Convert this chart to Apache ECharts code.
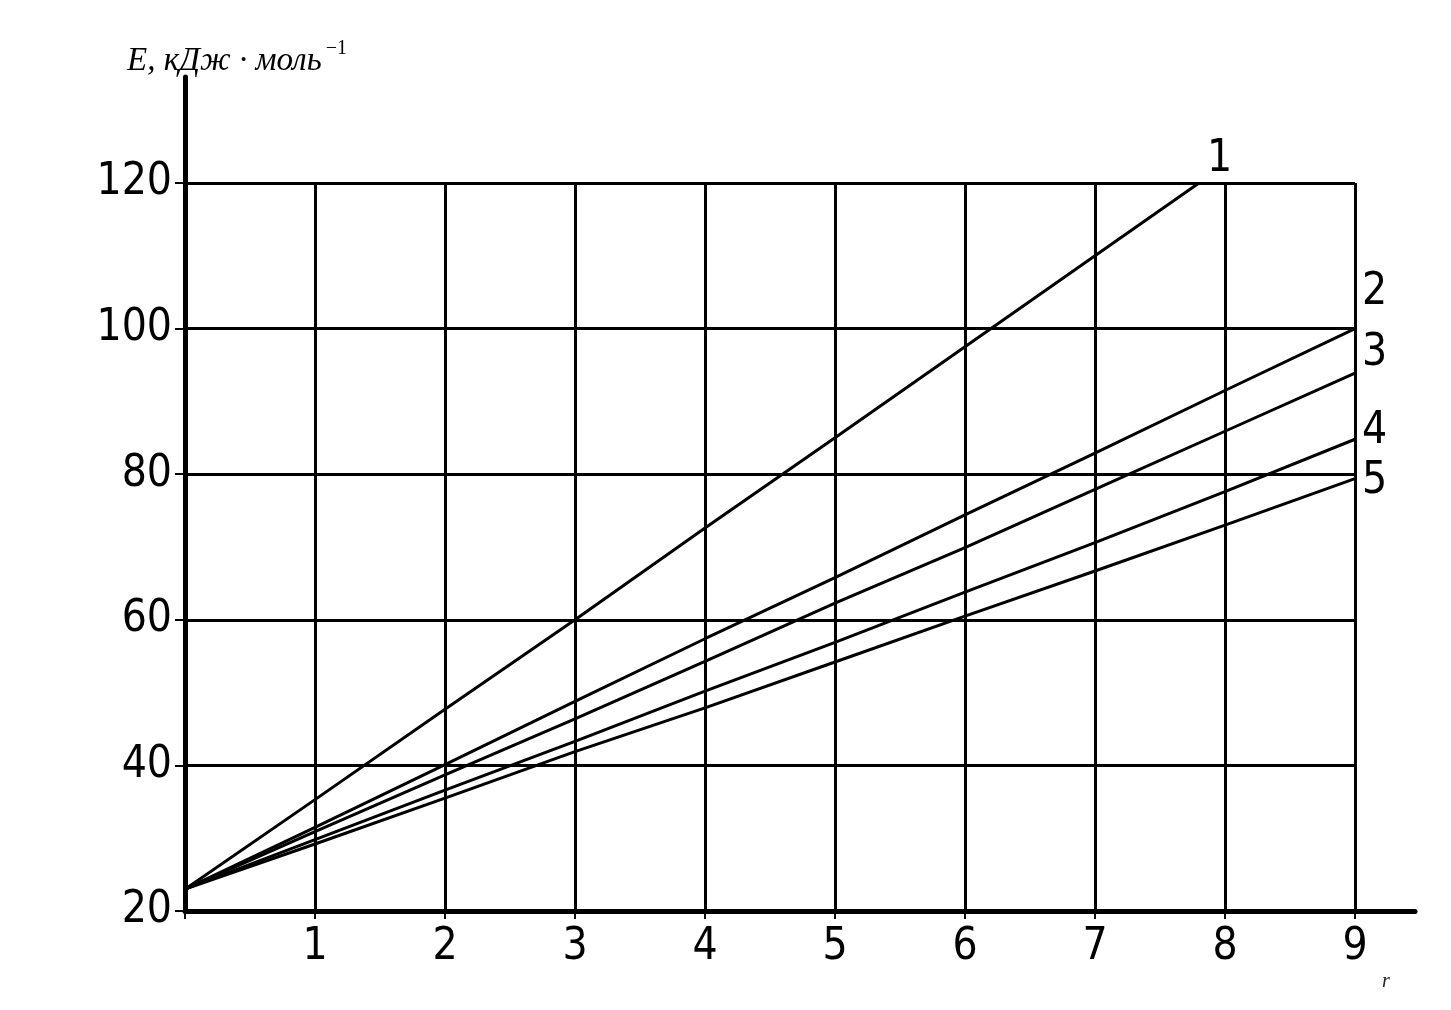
<!DOCTYPE html>
<html>
<head>
<meta charset="utf-8">
<script src="https://cdn.jsdelivr.net/npm/echarts@6/dist/echarts.min.js"></script>
<style>
html,body{margin:0;padding:0;background:#fff;}
#chart{width:1451px;height:1010px;}
</style>
</head>
<body>
<div id="chart"></div>
<script>
// ---- data ----
const xValues = [0, 1, 2, 3, 4, 5, 6, 7, 8, 9];
const line1X = [0, 1, 2, 3, 4, 5, 6, 7, 7.8];
const line1 = [23, 35.3, 47.7, 60, 72.6, 85, 97.5, 110, 120];
const line2 = [23, 31.5, 40.1, 48.8, 57.4, 65.8, 74.4, 82.9, 91.5, 100];
const line3 = [23, 30.9, 38.7, 46.4, 54.3, 62.3, 69.9, 77.9, 85.9, 93.9];
const line4 = [23, 29.8, 36.6, 43.3, 50.2, 56.9, 63.8, 70.6, 77.6, 84.8];
const line5 = [23, 29.2, 35.5, 41.9, 47.9, 54.2, 60.5, 66.7, 73.0, 79.4];
const seriesNames = ['1', '2', '3', '4', '5'];
const xTicks = [1, 2, 3, 4, 5, 6, 7, 8, 9];
const yTicks = [20, 40, 60, 80, 100, 120];
const yTitle = 'E, кДж · моль';
const yTitleSup = '−1';
const xName = 'r';

const numFont = "'Liberation Sans Narrow', 'Arial Narrow', 'DejaVu Sans Condensed', sans-serif";
const pairs = (xs, ys) => ys.map((v, i) => [xs[i], v]);
const endOffsets = [[8, -23], [7, -36], [7, -19], [7, -8], [7, 3]];
const allData = [pairs(line1X, line1), pairs(xValues, line2), pairs(xValues, line3), pairs(xValues, line4), pairs(xValues, line5)];

const chart = echarts.init(document.getElementById('chart'), null, {renderer: 'canvas'});
chart.setOption({
  animation: false,
  backgroundColor: '#fff',
  title: {
    left: 122, top: 34,
    text: '{a|' + yTitle + '}{b|' + yTitleSup + '}',
    textStyle: {
      fontWeight: 'normal',
      rich: {
        a: {fontFamily: "'Liberation Serif', serif", fontStyle: 'italic', fontWeight: 'normal', fontSize: 33, color: '#000', lineHeight: 44},
        b: {fontFamily: "'Liberation Serif', serif", fontWeight: 'normal', fontSize: 20, color: '#000', verticalAlign: 'top', padding: [0, 0, 0, 4]}
      }
    }
  },
  graphic: [{
    type: 'text', left: 1382, top: 972,
    style: {text: xName, font: "italic 20px 'Liberation Serif', serif", fill: '#222'}
  }],
  grid: [
    {left: 185, top: 183, width: 1170, height: 728},
    {left: 185, top: 77, width: 1230, height: 834}
  ],
  xAxis: [{
    type: 'value', gridIndex: 0, min: 0, max: 9, interval: 1,
    axisLine: {show: false},
    axisTick: {show: true, length: 8, lineStyle: {color: '#000', width: 2}},
    axisLabel: {
      show: true, margin: 15, color: '#000', fontFamily: numFont, fontSize: 44,
      formatter: v => (xTicks.indexOf(v) >= 0 ? String(v) : '')
    },
    splitLine: {show: true, lineStyle: {color: '#000', width: 3}}
  }, {
    type: 'value', gridIndex: 1, min: 0, max: 1,
    axisLine: {show: true, lineStyle: {color: '#000', width: 5}},
    axisTick: {show: false}, axisLabel: {show: false}, splitLine: {show: false}
  }],
  yAxis: [{
    type: 'value', gridIndex: 0, min: 20, max: 120, interval: 20,
    axisLine: {show: false},
    axisTick: {show: true, length: 10, lineStyle: {color: '#000', width: 2}},
    axisLabel: {
      show: true, margin: 13, color: '#000', fontFamily: numFont, fontSize: 44,
      formatter: v => (yTicks.indexOf(v) >= 0 ? String(v) : '')
    },
    splitLine: {show: true, lineStyle: {color: '#000', width: 3}}
  }, {
    type: 'value', gridIndex: 1, min: 0, max: 1,
    axisLine: {show: true, lineStyle: {color: '#000', width: 5}},
    axisTick: {show: false}, axisLabel: {show: false}, splitLine: {show: false}
  }],
  series: allData.map((d, i) => ({
    type: 'line', name: seriesNames[i], xAxisIndex: 0, yAxisIndex: 0,
    data: d, showSymbol: false, symbol: 'none',
    lineStyle: {color: '#000', width: 3},
    endLabel: {
      show: true, formatter: seriesNames[i], color: '#000',
      fontFamily: numFont, fontSize: 44, distance: 0,
      offset: endOffsets[i], align: 'left', verticalAlign: 'middle'
    }
  }))
});
</script>
</body>
</html>
